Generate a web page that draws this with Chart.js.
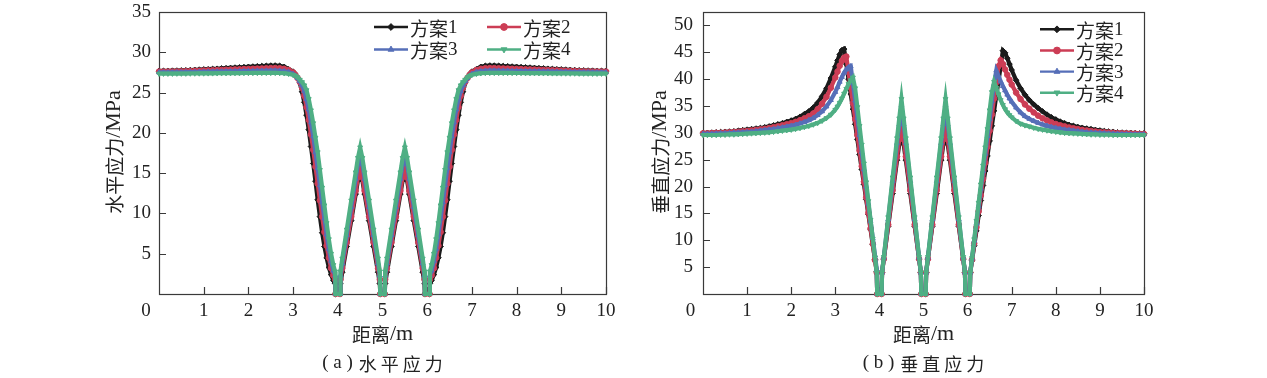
<!DOCTYPE html>
<html><head><meta charset="utf-8">
<script src="https://cdn.jsdelivr.net/npm/chart.js@4.4.1/dist/chart.umd.min.js"></script>
<style>
html,body{margin:0;padding:0;background:#fff;}
#wrap{position:relative;width:1267px;height:378px;overflow:hidden;background:#fff;}
canvas{position:absolute;left:0;top:0;}
</style></head><body>
<div id="wrap"><canvas id="cA" width="1267" height="378"></canvas><canvas id="cB" width="1267" height="378"></canvas></div>
<script>
// ---------------- data ----------------
const distance = [0,0.1,0.2,0.3,0.4,0.5,0.6,0.7,0.8,0.9,1,1.1,1.2,1.3,1.4,1.5,1.6,1.7,1.8,1.9,2,2.1,2.2,2.3,2.4,2.5,2.6,2.7,2.8,2.9,3,
 3.05,3.1,3.15,3.2,3.25,3.3,3.35,3.4,3.45,3.5,3.55,3.6,3.65,3.7,3.75,3.8,3.85,3.9,
 3.94,3.95,4.05,4.06,
 4.1,4.2,4.3,4.4,4.45,4.5,4.55,4.6,4.7,4.8,4.9,
 4.94,4.95,5.05,5.06,
 5.1,5.2,5.3,5.4,5.45,5.5,5.55,5.6,5.7,5.8,5.9,
 5.94,5.95,6.05,6.06,
 6.1,6.15,6.2,6.25,6.3,6.35,6.4,6.45,6.5,6.55,6.6,6.65,6.7,6.75,6.8,6.85,6.9,6.95,
 7,7.1,7.2,7.3,7.4,7.5,7.6,7.7,7.8,7.9,8,8.1,8.2,8.3,8.4,8.5,8.6,8.7,8.8,8.9,9,9.1,9.2,9.3,9.4,9.5,9.6,9.7,9.8,9.9,10];

const schemes = ['方案1','方案2','方案3','方案4'];

// (a) horizontal stress, MPa
const hStress1 = [27.7,27.7,27.7,27.72,27.73,27.75,27.77,27.8,27.82,27.85,27.88,27.9,27.93,27.96,28,28.03,28.06,28.1,28.13,28.17,28.2,28.23,28.27,28.3,28.33,28.35,28.36,28.33,28.2,27.9,27.6,
 27.3,26.8,26.2,25.1,23.8,22.2,20.4,18.3,16.2,14,11.7,9.6,7.6,5.9,4.5,3.3,2.4,1.7,
 1.3,0,0,1.3,
 2.7,5.9,9.1,12.4,14.1,15.6,14.1,12.4,9.1,5.9,2.7,
 1.3,0,0,1.3,
 2.7,5.9,9.1,12.4,14.1,15.6,14.1,12.4,9.1,5.9,2.7,
 1.3,0,0,1.3,
 1.7,2.4,3.3,4.5,5.9,7.6,9.6,11.7,14,16.2,18.3,20.4,22.2,23.8,25.1,26.2,26.8,27.3,
 27.6,27.9,28.2,28.33,28.36,28.35,28.33,28.3,28.27,28.23,28.2,28.17,28.13,28.1,28.06,28.03,28,27.96,27.93,27.9,27.88,27.85,27.82,27.8,27.77,27.75,27.73,27.72,27.7,27.7,27.7];
const hStress2 = [27.6,27.6,27.6,27.61,27.62,27.63,27.65,27.67,27.69,27.71,27.73,27.75,27.77,27.79,27.81,27.83,27.85,27.87,27.89,27.91,27.93,27.95,27.97,27.99,28.01,28.03,28.04,28.02,27.95,27.8,27.5,
 27.2,26.8,26.3,25.6,24.6,23.2,21.6,19.8,17.9,15.8,13.7,11.6,9.6,7.7,6,4.5,3.2,2.3,
 1.8,0,0,1.8,
 3.2,6.4,9.6,12.8,14.5,15.9,14.5,12.8,9.6,6.4,3.2,
 1.8,0,0,1.8,
 3.2,6.4,9.6,12.8,14.5,15.9,14.5,12.8,9.6,6.4,3.2,
 1.8,0,0,1.8,
 2.3,3.2,4.5,6,7.7,9.6,11.6,13.7,15.8,17.9,19.8,21.6,23.2,24.6,25.6,26.3,26.8,27.2,
 27.5,27.8,27.95,28.02,28.04,28.03,28.01,27.99,27.97,27.95,27.93,27.91,27.89,27.87,27.85,27.83,27.81,27.79,27.77,27.75,27.73,27.71,27.69,27.67,27.65,27.63,27.62,27.61,27.6,27.6,27.6];
const hStress3 = [27.5,27.5,27.5,27.51,27.52,27.52,27.53,27.54,27.55,27.56,27.57,27.58,27.59,27.6,27.61,27.62,27.63,27.64,27.65,27.66,27.67,27.68,27.69,27.7,27.71,27.72,27.72,27.7,27.65,27.55,27.3,
 27.1,26.8,26.4,25.9,25.2,24.2,22.9,21.3,19.6,17.6,15.6,13.5,11.4,9.4,7.4,5.6,4.1,2.9,
 2.3,0,0,2.3,
 3.8,7.3,10.8,14.3,16.1,17.4,16.1,14.3,10.8,7.3,3.8,
 2.3,0,0,2.3,
 3.8,7.3,10.8,14.3,16.1,17.4,16.1,14.3,10.8,7.3,3.8,
 2.3,0,0,2.3,
 2.9,4.1,5.6,7.4,9.4,11.4,13.5,15.6,17.6,19.6,21.3,22.9,24.2,25.2,25.9,26.4,26.8,27.1,
 27.3,27.55,27.65,27.7,27.72,27.72,27.71,27.7,27.69,27.68,27.67,27.66,27.65,27.64,27.63,27.62,27.61,27.6,27.59,27.58,27.57,27.56,27.55,27.54,27.53,27.52,27.52,27.51,27.5,27.5,27.5];
const hStress4 = [27.35,27.35,27.35,27.35,27.36,27.36,27.36,27.37,27.37,27.38,27.38,27.39,27.39,27.4,27.4,27.41,27.41,27.42,27.42,27.43,27.43,27.44,27.44,27.45,27.45,27.45,27.45,27.43,27.4,27.33,27.2,
 27.1,26.9,26.6,26.3,25.9,25.3,24.2,22.8,21.2,19.4,17.6,15.4,13.2,11,8.8,6.8,5,3.6,
 2.8,0,0,2.8,
 4.4,8,11.6,15.1,16.9,18.2,16.9,15.1,11.6,8,4.4,
 2.8,0,0,2.8,
 4.4,8,11.6,15.1,16.9,18.2,16.9,15.1,11.6,8,4.4,
 2.8,0,0,2.8,
 3.6,5,6.8,8.8,11,13.2,15.4,17.6,19.4,21.2,22.8,24.2,25.3,25.9,26.3,26.6,26.9,27.1,
 27.2,27.33,27.4,27.43,27.45,27.45,27.45,27.45,27.44,27.44,27.43,27.43,27.42,27.42,27.41,27.41,27.4,27.4,27.39,27.39,27.38,27.38,27.37,27.37,27.36,27.36,27.36,27.35,27.35,27.35,27.35];

// (b) vertical stress, MPa
const vStress1 = [30,30,30.05,30.1,30.15,30.2,30.25,30.3,30.4,30.5,30.6,30.7,30.8,30.9,31.05,31.2,31.4,31.6,31.8,32.05,32.3,32.6,33,33.5,34,34.7,35.6,36.8,38.3,40.2,42.3,
 43.5,44.6,45.4,45.6,42.8,40,37.2,34.4,31.6,28.8,26,23.2,20.4,17.6,14.8,12,9.2,6.4,
 4.2,0,0,4,
 6.5,12.6,18.7,24.9,27.9,30.9,27.9,24.9,18.7,12.6,6.5,
 4,0,0,4,
 6.5,12.6,18.7,24.9,27.9,30.9,27.9,24.9,18.7,12.6,6.5,
 4,0,0,4,
 6.2,9,11.8,14.6,17.4,20.2,22.9,25.7,28.5,31.3,34.1,36.9,39.6,42.4,45.3,44.9,43.9,42.8,
 41.7,39.8,38.3,37.1,36.1,35.3,34.6,34,33.4,32.9,32.5,32.1,31.8,31.5,31.3,31.1,30.95,30.8,30.7,30.55,30.45,30.35,30.25,30.2,30.1,30.05,30,30,29.95,29.9,29.9];
const vStress2 = [29.9,29.9,29.95,30,30,30.05,30.1,30.15,30.2,30.3,30.35,30.45,30.55,30.65,30.75,30.9,31.05,31.2,31.4,31.6,31.8,32.05,32.35,32.7,33.1,33.6,34.4,35.4,36.7,38.4,40.3,
 41.4,42.5,43.4,44,44.2,41.3,38.4,35.5,32.6,29.6,26.7,23.8,20.9,18,15.1,12.2,9.3,6.3,
 4,0,0,4,
 6.5,12.9,19.3,25.6,28.8,31.9,28.8,25.6,19.3,12.9,6.5,
 4,0,0,4,
 6.5,12.9,19.3,25.6,28.8,31.9,28.8,25.6,19.3,12.9,6.5,
 4,0,0,4,
 6.4,9.4,12.4,15.4,18.4,21.4,24.4,27.4,30.4,33.4,36.4,39.4,42.4,43.5,42.8,41.8,40.8,39.9,
 39,37.5,36.3,35.3,34.5,33.8,33.2,32.7,32.3,31.95,31.65,31.4,31.2,31,30.85,30.7,30.55,30.45,30.35,30.25,30.15,30.1,30.05,30,29.95,29.9,29.9,29.85,29.85,29.8,29.8];
const vStress3 = [29.8,29.8,29.8,29.85,29.9,29.9,29.95,30,30.05,30.1,30.15,30.2,30.3,30.4,30.5,30.6,30.7,30.85,31,31.15,31.3,31.5,31.75,32,32.35,32.75,33.3,34,34.9,36.1,37.6,
 38.5,39.5,40.4,41.2,41.8,42.2,42.4,39.2,36,32.8,29.6,26.4,23.2,20,16.8,13.6,10.4,7.2,
 4.6,0,0,4,
 6.8,13.9,21,28.1,31.6,35.1,31.6,28.1,21,13.9,6.8,
 4,0,0,4,
 6.8,13.9,21,28.1,31.6,35.1,31.6,28.1,21,13.9,6.8,
 4,0,0,4,
 6.6,9.9,13.1,16.4,19.6,22.9,26.1,29.4,32.6,35.9,39.1,41.6,40.6,39.6,38.7,37.9,37.1,36.4,
 35.8,34.7,33.8,33.1,32.6,32.2,31.85,31.55,31.3,31.1,30.9,30.75,30.6,30.5,30.4,30.3,30.2,30.1,30.05,30,29.95,29.9,29.85,29.8,29.8,29.75,29.75,29.7,29.7,29.7,29.7];
const vStress4 = [29.6,29.6,29.6,29.6,29.65,29.65,29.7,29.7,29.75,29.8,29.85,29.9,29.95,30,30.05,30.1,30.2,30.3,30.4,30.5,30.6,30.75,30.9,31.1,31.3,31.55,31.85,32.25,32.75,33.4,34.3,
 34.9,35.6,36.4,37.3,38.2,39.1,39.8,40.3,38.3,34.8,31.3,27.8,24.3,20.8,17.3,13.8,10.3,6.8,
 4,0,0,4,
 6.9,14.3,21.7,29,32.7,36.3,32.7,29,21.7,14.3,6.9,
 4,0,0,4,
 6.9,14.3,21.7,29,32.7,36.3,32.7,29,21.7,14.3,6.9,
 4,0,0,4,
 6.7,10.2,13.6,17,20.4,23.9,27.3,30.7,34.2,37.6,39.5,38.4,37.2,36.1,35.2,34.4,33.8,33.3,
 32.9,32.2,31.7,31.4,31.2,30.95,30.75,30.6,30.45,30.3,30.2,30.1,30,29.95,29.9,29.85,29.8,29.75,29.7,29.7,29.65,29.65,29.65,29.6,29.6,29.6,29.6,29.6,29.6,29.6,29.6];

const xTickValues = [1,2,3,4,5,6,7,8,9,10];
const originLabel = '0';
const hTickValues = [5,10,15,20,25,30,35];
const vTickValues = [5,10,15,20,25,30,35,40,45,50];
const xTitle = ['距离', '/m'];
const hTitle = ['水平应力', '/MPa'];
const vTitle = ['垂直应力', '/MPa'];
const captionTags = ['( a )', '( b )'];
const captionTexts = ['水平应力', '垂直应力'];

[hStress1,hStress2,hStress3,hStress4,vStress1,vStress2,vStress3,vStress4].forEach((a, i) => {
  if (a.length !== distance.length) throw new Error('length mismatch in series ' + i + ': ' + a.length + ' vs ' + distance.length);
});

// ---------------- styles ----------------
const COLORS = ['#1b1b1b', '#cc3d55', '#566fb8', '#4faf84'];
const STYLES = ['rectRot', 'circle', 'triangle', 'triangle'];
const ROTS = [0, 0, 0, 180];
const TEXT = '#222222';
const AXIS = '#3a3a3a';
const SERIF = "'Liberation Serif','Times New Roman',serif";
const CJK = "'Noto Sans CJK SC','Noto Sans CJK JP',sans-serif";
const TICK_FONT = {family: SERIF, size: 19};

// draw a two-part (CJK + Latin) label centred at (cx, cy), optionally rotated
function mixedText(ctx, parts, cx, cy, rot, cjkSize, latSize) {
  ctx.save();
  ctx.translate(cx, cy);
  if (rot) ctx.rotate(rot);
  ctx.textBaseline = 'middle';
  ctx.textAlign = 'left';
  ctx.font = `${cjkSize}px ${CJK}`;
  const w1 = ctx.measureText(parts[0]).width;
  ctx.font = `${latSize}px ${SERIF}`;
  const w2 = ctx.measureText(parts[1]).width;
  let x = -(w1 + w2) / 2;
  ctx.font = `${cjkSize}px ${CJK}`;
  ctx.fillText(parts[0], x, 1);
  ctx.font = `${latSize}px ${SERIF}`;
  ctx.fillText(parts[1], x + w1, 0);
  ctx.restore();
}

const decor = {
  id: 'decor',
  beforeDatasetsDraw(chart, args, o) {
    const {ctx, chartArea: a, scales: {x, y}} = chart;
    ctx.save();
    ctx.strokeStyle = AXIS;
    ctx.lineWidth = 1.2;
    ctx.strokeRect(Math.round(a.left) + 0.5, Math.round(a.top) + 0.5, Math.round(a.right - a.left), Math.round(a.bottom - a.top));
    ctx.beginPath();
    x.ticks.forEach(t => {
      const px = Math.round(x.getPixelForValue(t.value)) + 0.5;
      ctx.moveTo(px, a.bottom); ctx.lineTo(px, a.bottom - o.tickLen);
    });
    y.ticks.forEach(t => {
      const py = Math.round(y.getPixelForValue(t.value)) + 0.5;
      ctx.moveTo(a.left, py); ctx.lineTo(a.left + o.tickLen, py);
    });
    ctx.stroke();
    ctx.restore();
  },
  afterDraw(chart, args, o) {
    const {ctx, chartArea: a} = chart;
    ctx.save();
    ctx.fillStyle = TEXT;
    ctx.textBaseline = 'middle';
    // origin label
    ctx.font = `19px ${SERIF}`;
    ctx.textAlign = 'center';
    ctx.fillText(originLabel, a.left + o.originDx, a.bottom + o.originDy);
    const cx = (a.left + a.right) / 2;
    // axis titles
    mixedText(ctx, xTitle, cx, o.xTitleY, 0, 19, 22);
    mixedText(ctx, o.yTitle, o.yTitleX, o.yTitleY, -Math.PI / 2, 19, 22);
    // caption
    ctx.textAlign = 'left';
    ctx.font = `19px ${SERIF}`;
    const wTag = ctx.measureText(o.captionTag).width;
    const adv = 22, glyph = 18, gap = 6;
    const total = wTag + gap + adv * (o.captionText.length - 1) + glyph;
    let tx = cx - total / 2;
    ctx.fillText(o.captionTag, tx, o.captionY);
    tx += wTag + gap;
    ctx.font = `18px ${CJK}`;
    for (const ch of o.captionText) { ctx.fillText(ch, tx, o.captionY + 1); tx += adv; }
    // legend
    chart.data.datasets.forEach((ds, i) => {
      const [x0, y0] = o.legend[i];
      ctx.save();
      ctx.strokeStyle = ds.borderColor;
      ctx.lineWidth = 2.4;
      ctx.beginPath(); ctx.moveTo(x0, y0); ctx.lineTo(x0 + o.lineLen, y0); ctx.stroke();
      ctx.fillStyle = ds.pointBackgroundColor;
      ctx.strokeStyle = ds.pointBorderColor;
      ctx.lineWidth = 1;
      Chart.helpers.drawPoint(ctx, {pointStyle: ds.pointStyle, rotation: ds.pointRotation || 0, radius: 3.4, borderWidth: 1}, x0 + o.lineLen / 2, y0);
      ctx.restore();
      const word = ds.label.replace(/[0-9]/g, '');
      const num = ds.label.replace(/[^0-9]/g, '');
      let lx = x0 + o.lineLen + 2;
      ctx.textAlign = 'left';
      ctx.font = `19px ${CJK}`;
      ctx.fillText(word, lx, y0 + 1.5);
      lx += ctx.measureText(word).width;
      ctx.font = `19px ${SERIF}`;
      ctx.fillText(num, lx, y0 + 1);
    });
    ctx.restore();
  }
};

function makeChart(id, cfg) {
  return new Chart(document.getElementById(id), {
    type: 'line',
    data: {
      datasets: cfg.series.map((vals, i) => ({
        label: schemes[i],
        data: distance.map((d, k) => ({x: d, y: vals[k]})),
        borderColor: COLORS[i],
        backgroundColor: COLORS[i],
        pointBackgroundColor: COLORS[i],
        pointBorderColor: COLORS[i],
        pointStyle: STYLES[i],
        pointRotation: ROTS[i],
        pointRadius: 2.8,
        pointBorderWidth: 1,
        borderWidth: 4.2,
        tension: 0,
        clip: false,
        order: 3 - i
      }))
    },
    options: {
      responsive: false,
      animation: false,
      devicePixelRatio: 1,
      events: [],
      layout: {padding: cfg.padding},
      plugins: {legend: {display: false}, tooltip: {enabled: false}, decor: cfg.decor},
      scales: {
        x: {
          type: 'linear', min: 0, max: 10,
          afterBuildTicks: s => { s.ticks = xTickValues.map(v => ({value: v})); },
          afterFit: s => { s.height = 84; s.paddingLeft = 0; s.paddingRight = 0; },
          grid: {display: false, drawTicks: false, tickLength: 0},
          border: {display: false},
          ticks: {font: TICK_FONT, color: TEXT, padding: 6, maxRotation: 0, autoSkip: false},
          title: {display: false}
        },
        y: {
          type: 'linear', min: 0, max: cfg.yMax,
          afterBuildTicks: s => { s.ticks = cfg.yTicks.map(v => ({value: v})); },
          afterFit: s => { s.width = cfg.yWidth; s.paddingTop = 0; s.paddingBottom = 0; },
          grid: {display: false, drawTicks: false, tickLength: 0},
          border: {display: false},
          ticks: {font: TICK_FONT, color: TEXT, padding: cfg.yTickPad, autoSkip: false},
          title: {display: false}
        }
      }
    },
    plugins: [decor]
  });
}

makeChart('cA', {
  series: [hStress1, hStress2, hStress3, hStress4],
  yMax: 35, yTicks: hTickValues,
  yWidth: 159, yTickPad: 8,
  padding: {left: 0, top: 12, right: 661, bottom: 0},
  decor: {
    tickLen: 7, originDx: -13, originDy: 17.4,
    yTitle: hTitle, yTitleX: 114, yTitleY: 152, xTitleY: 334,
    captionTag: captionTags[0], captionText: captionTexts[0], captionY: 363,
    lineLen: 34,
    legend: [[374, 27], [487, 27], [374, 49.5], [487, 49.5]]
  }
});

makeChart('cB', {
  series: [vStress1, vStress2, vStress3, vStress4],
  yMax: 52.5, yTicks: vTickValues,
  yWidth: 103, yTickPad: 10,
  padding: {left: 600, top: 12, right: 123, bottom: 0},
  decor: {
    tickLen: 7, originDx: -12.6, originDy: 17.4,
    yTitle: vTitle, yTitleX: 660, yTitleY: 152, xTitleY: 334,
    captionTag: captionTags[1], captionText: captionTexts[1], captionY: 363,
    lineLen: 34,
    legend: [[1040, 29.3], [1040, 50.5], [1040, 71.6], [1040, 92.7]]
  }
});
</script>
</body></html>
